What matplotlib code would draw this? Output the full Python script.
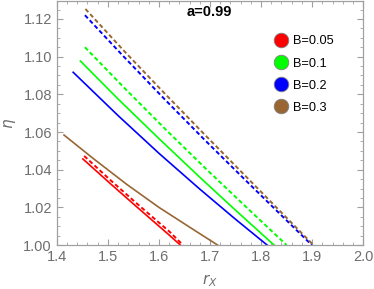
import matplotlib.pyplot as plt
from matplotlib.ticker import MultipleLocator
from matplotlib.lines import Line2D

plt.rcParams['font.family'] = ['Liberation Sans', 'DejaVu Sans']

labels = ['B=0.05', 'B=0.1', 'B=0.2', 'B=0.3']
colors = ['#ff0000', '#00ff00', '#0000ff', '#996633']

# solid curves (r_X, eta)
rx_solid = [
    [1.451, 1.504, 1.556, 1.618, 1.642],
    [1.446, 1.52, 1.60, 1.68, 1.75, 1.8255],
    [1.432, 1.52, 1.60, 1.68, 1.75, 1.812],
    [1.414, 1.471, 1.537, 1.60, 1.667, 1.715],
]
eta_solid = [
    [1.0457, 1.0328, 1.0204, 1.0058, 1.0000],
    [1.0977, 1.0775, 1.0565, 1.0360, 1.0185, 1.0000],
    [1.0917, 1.0687, 1.0487, 1.0297, 1.0137, 1.0000],
    [1.0584, 1.0460, 1.0322, 1.0200, 1.0083, 1.0000],
]

# dashed curves
rx_dash = [
    [1.4535, 1.504, 1.556, 1.622, 1.647],
    [1.455, 1.53, 1.61, 1.69, 1.77, 1.850],
    [1.455, 1.53, 1.61, 1.69, 1.77, 1.8994],
    [1.456, 1.53, 1.61, 1.69, 1.77, 1.9026],
]
eta_dash = [
    [1.0473, 1.0347, 1.0222, 1.0068, 1.0000],
    [1.1050, 1.0840, 1.0622, 1.0410, 1.0204, 1.0000],
    [1.1220, 1.1003, 1.0777, 1.0557, 1.0343, 1.0000],
    [1.1253, 1.1035, 1.0808, 1.0585, 1.0365, 1.0000],
]

fig = plt.figure(figsize=(3.74, 2.89), dpi=100)
ax = fig.add_axes([0.152, 0.152, 0.819, 0.845])

for i in range(4):
    ax.plot(rx_solid[i], eta_solid[i], color=colors[i], lw=1.2)
    ax.plot(rx_dash[i], eta_dash[i], color=colors[i], lw=1.4,
            dashes=(2.2, 1.4))

ax.set_xlim(1.4, 2.0)
ax.set_ylim(1.0, 1.1296)
ax.xaxis.set_major_locator(MultipleLocator(0.1))
ax.xaxis.set_minor_locator(MultipleLocator(0.02))
ax.yaxis.set_minor_locator(MultipleLocator(0.005))
ax.set_yticks([1.00, 1.02, 1.04, 1.06, 1.08, 1.10, 1.12])
ax.set_yticklabels(['1.00', '1.02', '1.04', '1.06', '1.08', '1.10', '1.12'])

gray = '#6e6e6e'
for s in ax.spines.values():
    s.set_color('#a0a0a0')
    s.set_linewidth(0.9)
ax.tick_params(which='both', direction='in', top=True, right=True,
               color='#a0a0a0', labelcolor=gray, labelsize=10.5)
ax.tick_params(which='major', length=4)
ax.tick_params(which='minor', length=2)

ax.set_xlabel(r'$r_X$', color=gray, fontsize=11, labelpad=6)
ax.set_ylabel(r'$\eta$', color=gray, fontsize=11, labelpad=4)

ax.text(0.425, 0.955, 'a=0.99', transform=ax.transAxes, fontsize=10.5,
        fontweight='bold', va='center')

handles = [Line2D([], [], ls='', marker='o', ms=10.5, mfc=c, mec='#808080',
                  mew=0.6) for c in colors]
ax.legend(handles, labels, loc='upper left', bbox_to_anchor=(0.69, 0.88),
          frameon=False, fontsize=9.2, handletextpad=0.35, labelspacing=0.8,
          borderaxespad=0, handlelength=1.2)

fig.savefig('out.png', dpi=100)
